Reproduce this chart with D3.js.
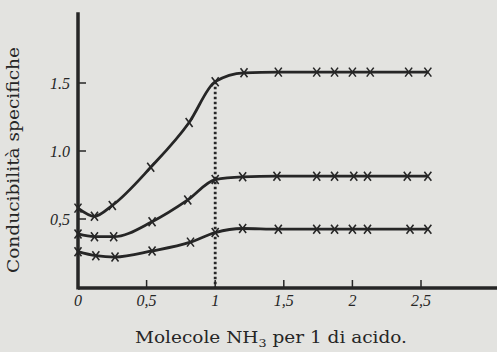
<!DOCTYPE html>
<html><head><meta charset="utf-8">
<script src="https://cdn.jsdelivr.net/npm/d3@7"></script>
<style>
html,body{margin:0;padding:0;background:#e3e3e0;}
svg{display:block;}
</style></head>
<body><svg id="c" width="497" height="352"></svg>
<script>
// Data (x = molecules NH3 per 1 of acid, y = specific conductivity)
const topX = [0, 0.12, 0.25, 0.53, 0.81, 1.0, 1.21, 1.46, 1.74, 1.87, 2.0, 2.13, 2.41, 2.55];
const topY = [0.58, 0.52, 0.60, 0.88, 1.21, 1.51, 1.575, 1.58, 1.58, 1.58, 1.58, 1.58, 1.58, 1.58];
const midX = [0, 0.12, 0.26, 0.54, 0.80, 1.0, 1.20, 1.45, 1.74, 1.87, 2.01, 2.11, 2.40, 2.55];
const midY = [0.39, 0.37, 0.37, 0.48, 0.64, 0.79, 0.81, 0.815, 0.815, 0.815, 0.815, 0.815, 0.815, 0.815];
const botX = [0, 0.13, 0.27, 0.54, 0.82, 1.0, 1.20, 1.46, 1.74, 1.87, 2.0, 2.11, 2.42, 2.55];
const botY = [0.26, 0.23, 0.22, 0.265, 0.33, 0.40, 0.43, 0.425, 0.425, 0.425, 0.425, 0.425, 0.425, 0.425];
const xTicks = [0, 0.5, 1, 1.5, 2, 2.5];
const xTickLabels = ["0", "0,5", "1", "1,5", "2", "2,5"];
const yTicks = [0.5, 1.0, 1.5];
const yTickLabels = ["0,5", "1.0", "1.5"];
const xTitle = "Molecole NH";
const yTitle = "Conducibilità specifiche";

const svg = d3.select("#c");
const x = d3.scaleLinear().domain([0, 2.5]).range([78, 421]);
const y = d3.scaleLinear().domain([0, 1.5]).range([287, 83]);
const ink = "#262626";

// axes lines
const x0 = x(0), y0 = y(0);
svg.append("line").attr("x1", x0).attr("x2", x(3.06)).attr("y1", y0+1).attr("y2", y0+1)
  .attr("stroke", ink).attr("stroke-width", 3.5);
svg.append("line").attr("x1", x0).attr("x2", x0).attr("y1", y(2.02)).attr("y2", y0+2.5)
  .attr("stroke", ink).attr("stroke-width", 3.5);

// ticks (inside)
svg.selectAll(".xt").data(xTicks.slice(1)).enter().append("line")
  .attr("x1", d => x(d)).attr("x2", d => x(d)).attr("y1", y0).attr("y2", y0-7)
  .attr("stroke", ink).attr("stroke-width", 1.5);
svg.selectAll(".yt").data(yTicks).enter().append("line")
  .attr("x1", x0).attr("x2", x0+8).attr("y1", d => y(d)).attr("y2", d => y(d))
  .attr("stroke", ink).attr("stroke-width", 1.5);

// tick labels
svg.selectAll(".xl").data(xTicks).enter().append("text")
  .attr("x", d => x(d)).attr("y", y0+19).attr("text-anchor", "middle")
  .attr("font-family", "Liberation Serif").attr("font-style", "italic").attr("font-size", 16)
  .attr("fill", ink).text((d, i) => xTickLabels[i]);
svg.selectAll(".yl").data(yTicks).enter().append("text")
  .attr("x", x0-8).attr("y", d => y(d)+6).attr("text-anchor", "end")
  .attr("font-family", "Liberation Serif").attr("font-style", "italic").attr("font-size", 16)
  .attr("fill", ink).text((d, i) => yTickLabels[i]);

// dotted vertical line at x = 1
svg.append("line").attr("x1", x(1)).attr("x2", x(1)).attr("y1", y(1.51)).attr("y2", y0)
  .attr("stroke", ink).attr("stroke-width", 2.8).attr("stroke-dasharray", "2.5,2.5");

// curves
const line = d3.line().x(d => x(d[0])).y(d => y(d[1])).curve(d3.curveMonotoneX);
const series = [[topX, topY], [midX, midY], [botX, botY]];
series.forEach(([xs, ys]) => {
  const pts = xs.map((v, i) => [v, ys[i]]);
  svg.append("path").attr("d", line(pts)).attr("fill", "none")
    .attr("stroke", ink).attr("stroke-width", 2.8).attr("stroke-linejoin", "round");
  const g = svg.append("g");
  pts.forEach(p => {
    const cx = x(p[0]), cy = y(p[1]);
    g.append("path").attr("d", `M${cx-3.5},${cy-4.5}L${cx+3.5},${cy+4.5}M${cx+3.5},${cy-4.5}L${cx-3.5},${cy+4.5}`)
      .attr("stroke", ink).attr("stroke-width", 1.6).attr("fill", "none");
  });
});

// axis titles
const xt = svg.append("text").attr("x", 271).attr("y", 343).attr("text-anchor", "middle")
  .attr("font-family", "DejaVu Serif").attr("font-size", 16).attr("fill", ink)
  .attr("textLength", 272).attr("lengthAdjust", "spacingAndGlyphs");
xt.append("tspan").text(xTitle);
xt.append("tspan").attr("font-size", 11).attr("dy", 4).text("3");
xt.append("tspan").attr("dy", -4).text(" per 1 di acido.");

svg.append("text").attr("transform", "translate(19,160) rotate(-90)").attr("text-anchor", "middle")
  .attr("font-family", "DejaVu Serif").attr("font-size", 16).attr("fill", ink)
  .attr("textLength", 226).attr("lengthAdjust", "spacingAndGlyphs").text(yTitle);
</script></body></html>
